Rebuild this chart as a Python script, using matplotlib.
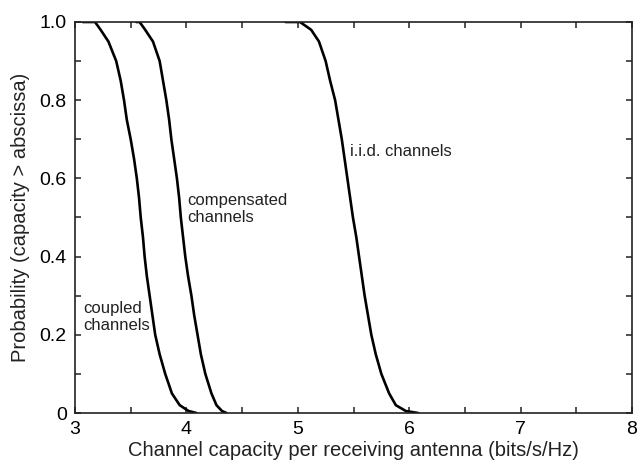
import matplotlib
matplotlib.use("Agg")
import matplotlib.pyplot as plt
from matplotlib.ticker import MultipleLocator

plt.rcParams['font.family'] = ['Liberation Sans', 'DejaVu Sans']

prob = [1.0, 1.0, 0.98, 0.95, 0.9, 0.85, 0.8, 0.75, 0.7, 0.65, 0.6, 0.55, 0.5,
        0.45, 0.4, 0.35, 0.3, 0.25, 0.2, 0.15, 0.1, 0.05, 0.02, 0.005, 0.0]
coupled_x = [3.07, 3.18, 3.23, 3.30, 3.37, 3.41, 3.44, 3.465, 3.50, 3.53, 3.555, 3.575, 3.59,
             3.61, 3.625, 3.645, 3.67, 3.695, 3.72, 3.76, 3.81, 3.87, 3.94, 4.02, 4.09]
compensated_x = [3.55, 3.58, 3.63, 3.70, 3.76, 3.79, 3.82, 3.845, 3.865, 3.89, 3.915, 3.935, 3.95,
                 3.97, 3.99, 4.015, 4.045, 4.07, 4.10, 4.13, 4.17, 4.225, 4.27, 4.32, 4.36]
iid_x = [4.89, 5.02, 5.12, 5.19, 5.25, 5.29, 5.335, 5.365, 5.395, 5.42, 5.445, 5.47, 5.495,
         5.525, 5.55, 5.575, 5.60, 5.63, 5.66, 5.70, 5.75, 5.82, 5.88, 5.97, 6.08]

xticks = [3, 4, 5, 6, 7, 8]
yticks = [0, 0.2, 0.4, 0.6, 0.8, 1.0]
ytick_labels = ['0', '0.2', '0.4', '0.6', '0.8', '1.0']

fig = plt.figure(figsize=(6.37, 4.61), dpi=100)
ax = fig.add_axes([75/637, 1 - 413/461, (632-75)/637, (413-22)/461])

for xs in (coupled_x, compensated_x, iid_x):
    ax.plot(xs, prob, color='black', lw=1.9, solid_joinstyle='round', solid_capstyle='round')

ax.set_xlim(3, 8)
ax.set_ylim(0, 1)
ax.set_xticks(xticks)
ax.set_xticklabels([str(t) for t in xticks])
ax.set_yticks(yticks)
ax.set_yticklabels(ytick_labels)
ax.xaxis.set_minor_locator(MultipleLocator(0.5))
ax.yaxis.set_minor_locator(MultipleLocator(0.1))
ax.tick_params(which='both', direction='in', top=True, right=True, length=4.3, width=1.1,
               labelsize=14, color='#222222')
ax.tick_params(axis='x', pad=6)
ax.tick_params(axis='y', pad=6)
for s in ax.spines.values():
    s.set_linewidth(1.2)
    s.set_color('#222222')

ax.set_xlabel('Channel capacity per receiving antenna (bits/s/Hz)', fontsize=14.5, labelpad=2,
              color='#222222')
ax.set_ylabel('Probability (capacity > abscissa)', fontsize=14.5, labelpad=7, color='#222222')

ax.text(4.01, 0.522, 'compensated\nchannels', fontsize=12, ha='left', va='center',
        linespacing=1.2, color='#222222')
ax.text(5.47, 0.67, 'i.i.d. channels', fontsize=12, ha='left', va='center', color='#222222')
ax.text(3.07, 0.245, 'coupled\nchannels', fontsize=12, ha='left', va='center',
        linespacing=1.15, color='#222222')

fig.savefig('out.png', dpi=100)
